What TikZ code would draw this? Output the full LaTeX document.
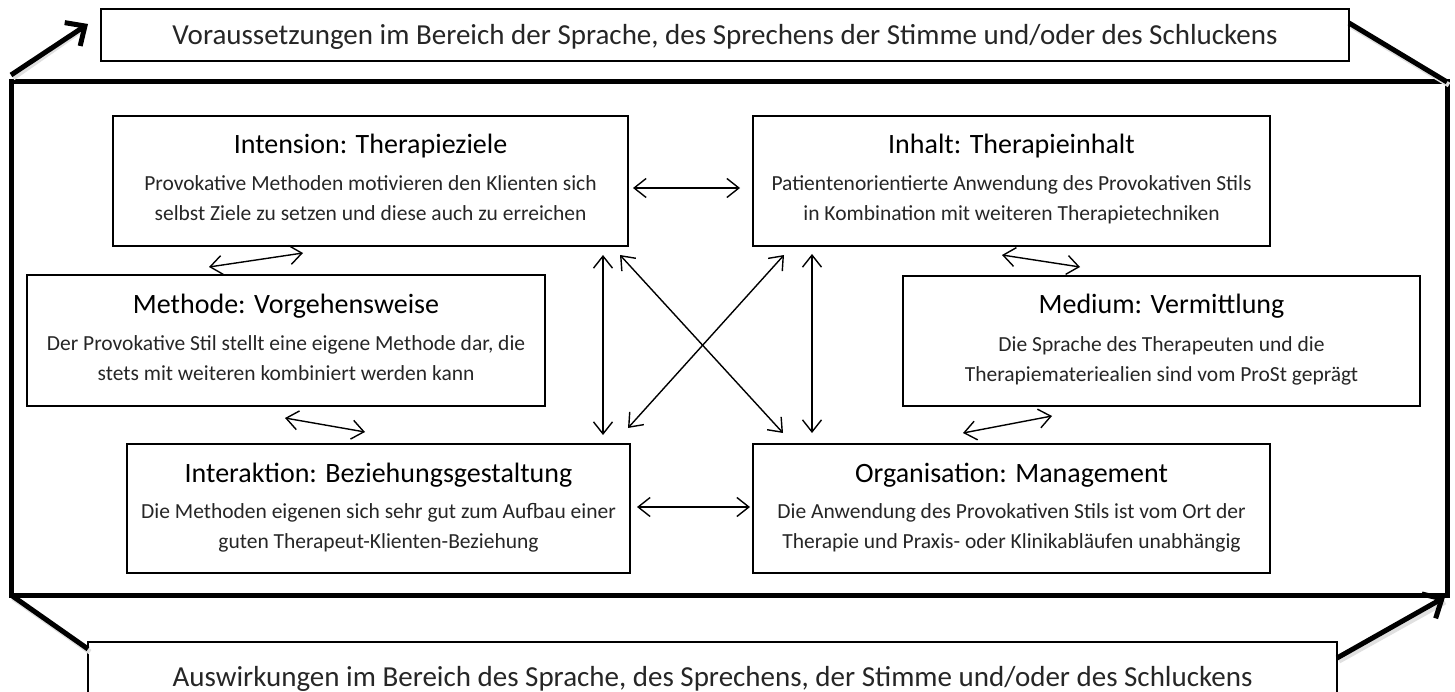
\documentclass[tikz,border=0pt]{standalone}
\usepackage{fontspec}
\setmainfont{Carlito}
\usetikzlibrary{arrows.meta,calc}
\begin{document}
\begin{tikzpicture}[x=1pt,y=-1pt,
  every node/.style={outer sep=0pt, inner sep=0pt},
  pbox/.style={draw, line width=1.2pt},
  ttl/.style={font=\fontsize{28}{30}\selectfont, anchor=base},
  bdy/.style={font=\fontsize{21.5}{25}\selectfont, anchor=base, text=black!85},
  outer/.style={font=\fontsize{29}{32}\selectfont, anchor=base, text=black!85},
  biarrow/.style={line width=1.4pt, {Straight Barb[length=12pt,width=19pt]}-{Straight Barb[length=12pt,width=19pt]}},
  heavy/.style={line width=5pt},
  heavyarrow/.style={line width=5pt, -{Straight Barb[length=15pt,width=28pt]}},
  shade/.style={line width=5pt, black!12}
]
\useasboundingbox (0,0) rectangle (1455,692);
\clip (0,0) rectangle (1455,692);
\fill[white] (0,0) rectangle (1455,692);

% outer frame and outer boxes
\node[draw, line width=5pt, minimum width=1436pt, minimum height=513pt] (frame) at (729,338.5) {};
\node[pbox, minimum width=1248pt, minimum height=52pt] (top) at (725,35) {};
\node[outer] at ($(top.north)+(0,36)$) {Voraussetzungen im Bereich der Sprache, des Sprechens der Stimme und/oder des Schluckens};
\node[pbox, minimum width=1249pt, minimum height=100pt] (bot) at (712.5,692) {};
\node[outer] at ($(bot.north)+(0,44)$) {Auswirkungen im Bereich des Sprache, des Sprechens, der Stimme und/oder des Schluckens};

% inner boxes
\node[pbox, minimum width=515pt, minimum height=130pt] (int) at (370.5,181) {};
\node[pbox, minimum width=517pt, minimum height=130pt] (inh) at (1011.5,181) {};
\node[pbox, minimum width=518pt, minimum height=131pt] (met) at (286,340.5) {};
\node[pbox, minimum width=517pt, minimum height=130pt] (med) at (1161.5,341) {};
\node[pbox, minimum width=503pt, minimum height=129pt] (ia) at (378.5,508.5) {};
\node[pbox, minimum width=517pt, minimum height=129pt] (org) at (1011.5,508.5) {};

\node[ttl] at ($(int.north)+(0,38)$) {Intension: Therapieziele};
\node[bdy] at ($(int.north)+(0,75)$) {Provokative Methoden motivieren den Klienten sich};
\node[bdy] at ($(int.north)+(0,105)$) {selbst Ziele zu setzen und diese auch zu erreichen};

\node[ttl] at ($(inh.north)+(0,38)$) {Inhalt: Therapieinhalt};
\node[bdy] at ($(inh.north)+(0,75)$) {Patientenorientierte Anwendung des Provokativen Stils};
\node[bdy] at ($(inh.north)+(0,105)$) {in Kombination mit weiteren Therapietechniken};

\node[ttl] at ($(met.north)+(0,38)$) {Methode: Vorgehensweise};
\node[bdy] at ($(met.north)+(0,75)$) {Der Provokative Stil stellt eine eigene Methode dar, die};
\node[bdy] at ($(met.north)+(0,105)$) {stets mit weiteren kombiniert werden kann};

\node[ttl] at ($(med.north)+(0,38)$) {Medium: Vermittlung};
\node[bdy] at ($(med.north)+(0,75)$) {Die Sprache des Therapeuten und die};
\node[bdy] at ($(med.north)+(0,105)$) {Therapiemateriealien sind vom ProSt geprägt};

\node[ttl] at ($(ia.north)+(0,38)$) {Interaktion: Beziehungsgestaltung};
\node[bdy] at ($(ia.north)+(0,74)$) {Die Methoden eigenen sich sehr gut zum Aufbau einer};
\node[bdy] at ($(ia.north)+(0,104)$) {guten Therapeut-Klienten-Beziehung};

\node[ttl] at ($(org.north)+(0,38)$) {Organisation: Management};
\node[bdy] at ($(org.north)+(0,74)$) {Die Anwendung des Provokativen Stils ist vom Ort der};
\node[bdy] at ($(org.north)+(0,104)$) {Therapie und Praxis- oder Klinikabläufen unabhängig};

% thin double arrows
\draw[biarrow] ($(int.east)+(5,7)$) -- ($(inh.west)+(-13,7)$);
\draw[biarrow] ($(met.north)+(-77,-8)$) -- ($(int.south)+(-67.5,7)$);
\draw[biarrow] ($(met.south)+(-1,12)$) -- ($(ia.north)+(-13.5,-12)$);
\draw[biarrow] ($(inh.south)+(-9.5,9)$) -- ($(med.north)+(-81.5,-9)$);
\draw[biarrow] ($(org.north)+(-48.5,-11)$) -- ($(med.south)+(-109.5,10)$);
\draw[biarrow] ($(ia.east)+(7,-1.5)$) -- ($(org.west)+(-3,-1.5)$);
\draw[biarrow] ($(int.south east)+(-25,9)$) -- ($(ia.north east)+(-27,-9)$);
\draw[biarrow] ($(inh.south west)+(59,8)$) -- ($(org.north west)+(59,-11)$);
\draw[biarrow] ($(int.south east)+(-8,9)$) -- ($(org.north west)+(30,-11)$);
\draw[biarrow] ($(inh.south west)+(31,9)$) -- ($(ia.north east)+(-2,-16)$);

% heavy connectors between frame and outer boxes
\draw[shade] ($(top.east)+(2,-9)$) -- ($(frame.north east)+(2,3)$);
\draw[shade] ($(frame.south west)+(2,3)$) -- ($(bot.north west)+(2,10)$);
\draw[shade] ($(frame.north west)+(2,-4)$) -- ($(top.west)+(-15,-8)$);
\draw[shade] ($(bot.north east)+(2,19)$) -- ($(frame.south east)+(-2,7)$);
\draw[heavyarrow] ($(frame.north west)+(0,-7)$) -- ($(top.west)+(-13,-11)$);
\draw[heavy] ($(top.east)+(0,-12)$) -- (frame.north east);
\draw[heavy] (frame.south west) -- ($(bot.north west)+(0,7)$);
\draw[heavyarrow] ($(bot.north east)+(0,16)$) -- ($(frame.south east)+(-2,2)$);
\end{tikzpicture}
\end{document}
